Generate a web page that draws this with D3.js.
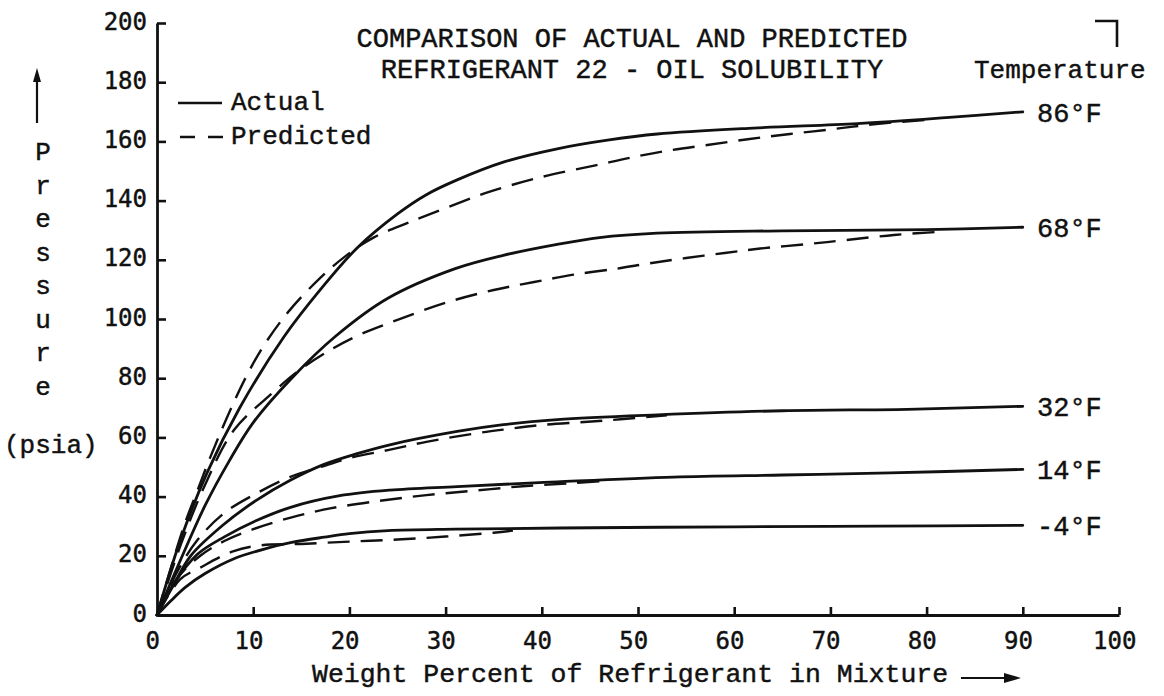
<!DOCTYPE html>
<html><head><meta charset="utf-8">
<script src="https://cdn.jsdelivr.net/npm/d3@7"></script>
<style>
html,body{margin:0;padding:0;background:#fff;}
svg{display:block;}
</style></head>
<body>
<svg id="chart" width="1164" height="696"></svg>
<script>
// ---------- data ----------
const titleLines = ["COMPARISON OF ACTUAL AND PREDICTED", "REFRIGERANT 22 - OIL SOLUBILITY"];
const xTicks = [0,10,20,30,40,50,60,70,80,90,100];
const yTicks = [0,20,40,60,80,100,120,140,160,180,200];
const temperatures = ["86°F","68°F","32°F","14°F","-4°F"];

const actual86 = [[0,0],[2.4,25],[5.2,48],[8.6,70],[13.2,94],[17,110],[20.8,124],[25,135.5],[28,142],[31.2,147],[36,153],[41.6,157.5],[47,160.5],[52,162.5],[62,164.5],[72.8,166],[82,168],[90,170]];
const predicted86 = [[0,0],[2.8,30],[4.2,42],[5.5,53],[8,72],[10,85],[11.5,93],[13.8,103],[17,114],[19.7,121.5],[22.5,127.5],[26,132.4],[30,137.5],[34.6,143],[40,148],[45.7,152],[49.2,154.5],[53,156.8],[57.2,158.8],[61.6,160.8],[65.8,162.5],[70.4,164.2],[74.5,165.8],[80,167.3]];

const actual68 = [[0,0],[2.5,19],[5,37],[7.5,52],[10,65],[14,80],[18.5,94],[24,107],[31,117],[36,121.5],[41.6,125.2],[46,127.5],[52,129],[65,129.8],[80,130.2],[90,131]];
const predicted68 = [[0,0],[2.5,24],[5,44],[8,62.5],[12,75],[14.5,82],[18,89.5],[21,94.6],[25,99.7],[30,105.5],[35,109.8],[39.2,112.5],[43.3,115],[47.8,117],[51.2,118.8],[55,120.6],[59,122.3],[62.7,123.8],[67.6,125.3],[71.7,126.7],[76.6,128.4],[81,129.4]];

const actual32 = [[0,0],[1.7,10],[3.5,20],[6.9,30.5],[10.4,38.9],[13.9,45.6],[17.3,50.8],[20.8,54.5],[24.2,57.5],[31.2,62],[36,64.3],[41.6,66],[52,67.6],[65,69],[78,69.5],[90,70.5]];
const predicted32 = [[0,0],[2,14],[4.2,25.3],[7,34.5],[10.4,41.2],[13.8,46.6],[17,50],[20,53],[24,55.7],[28,58.5],[33,61.3],[36.4,62.8],[40,64.2],[44.4,65.2],[48.5,66.2],[53,67.5]];

const actual14 = [[0,0],[1.8,10.8],[4.2,20.5],[7,26.4],[10.4,32],[13.8,36.3],[19,40.3],[24.2,42.2],[31.2,43.4],[41.6,45],[53.7,46.6],[65,47.3],[76.2,48],[90,49.2]];
const predicted14 = [[0,0],[2,12],[4.5,20],[7,25],[10,29],[14,33],[18,36],[23,38.5],[28,40.5],[33,42],[38,43.5],[43,44.5],[46,45.2]];

const actualM4 = [[0,0],[1.5,5],[3,9.5],[5,14],[8,19],[11.4,22.5],[14,24.5],[17.4,26.3],[20,27.5],[24,28.5],[31,29],[42,29.4],[60,29.8],[75,30],[90,30.3]];
const predictedM4 = [[0,0],[2.4,12],[4.5,16],[7.9,21.5],[10.7,23.5],[15,24],[20,24.8],[25,25.5],[30,26.5],[35,27.8],[37,28.5]];

const actualSeries = [actual86, actual68, actual32, actual14, actualM4];
const predictedSeries = [predicted86, predicted68, predicted32, predicted14, predictedM4];

// ---------- layout ----------
const svg = d3.select("#chart");
const x = d3.scaleLinear().domain([0,100]).range([157,1119]);
const y = d3.scaleLinear().domain([0,200]).range([615,23]);
const ink = "#111";
const mono = "'Liberation Mono', 'Courier New', monospace";
const sansMono = "'DejaVu Sans Mono', monospace";
const boldify = sel => sel.attr("stroke", ink).attr("stroke-width", 0.45);

// axes
const yAxis = d3.axisLeft(y).tickValues(yTicks).tickSizeInner(-9).tickSizeOuter(0).tickPadding(10).tickFormat(d3.format("d"));
const gy = svg.append("g").attr("transform", `translate(${x(0)},0)`).call(yAxis);
const xAxis = d3.axisBottom(x).tickValues(xTicks).tickSizeInner(-8).tickSizeOuter(0).tickPadding(14).tickFormat(d3.format("d"));
const gx = svg.append("g").attr("transform", `translate(0,${y(0)})`).call(xAxis);

[gx, gy].forEach(g => {
  g.select(".domain").attr("stroke", ink).attr("stroke-width", 2.8);
  g.selectAll(".tick line").attr("stroke", ink).attr("stroke-width", 2.6);
  g.selectAll(".tick text").attr("fill", ink).style("font-family", sansMono).style("font-size", "24px").call(boldify);
});
gy.selectAll(".tick text").attr("dy", "0.25em");
gx.selectAll(".tick text").attr("dx", "-0.2em").attr("dy", "0.85em");
gx.selectAll(".tick").filter(d => d === 0).select("line").remove();
gy.selectAll(".tick").filter(d => d === 0).select("line").remove();

// curves
const line = d3.line().x(d => x(d[0])).y(d => y(d[1])).curve(d3.curveCatmullRom.alpha(0.5));
svg.append("g").selectAll("path.actual").data(actualSeries).join("path")
  .attr("class","actual").attr("d", line).attr("fill","none")
  .attr("stroke", ink).attr("stroke-width", 2.8).attr("stroke-linecap","round");
svg.append("g").selectAll("path.pred").data(predictedSeries).join("path")
  .attr("class","pred").attr("d", line).attr("fill","none")
  .attr("stroke", ink).attr("stroke-width", 2.4).attr("stroke-dasharray","22 11");

// curve labels
svg.append("g").selectAll("text").data(actualSeries).join("text")
  .attr("x", 1037)
  .attr("y", d => y(d[d.length-1][1]) + 10)
  .text((d,i) => temperatures[i])
  .attr("fill", ink).style("font-family", mono).style("font-size","27px").call(boldify);

// title
svg.append("g").selectAll("text").data(titleLines).join("text")
  .attr("x", 632).attr("y", (d,i) => 47 + i*31)
  .attr("text-anchor","middle")
  .text(d => d).attr("fill", ink).style("font-family", mono).style("font-size","27px").call(boldify);

svg.append("text").attr("x", 974).attr("y", 78).text("Temperature")
  .attr("fill", ink).style("font-family", mono).style("font-size","26px").call(boldify);
svg.append("path").attr("d","M1095,21 H1117 V47").attr("fill","none").attr("stroke",ink).attr("stroke-width",2.6);

// legend
svg.append("line").attr("x1",178).attr("x2",222).attr("y1",103).attr("y2",103).attr("stroke",ink).attr("stroke-width",2.4);
svg.append("line").attr("x1",180).attr("x2",227).attr("y1",137).attr("y2",137).attr("stroke",ink).attr("stroke-width",2.4).attr("stroke-dasharray","15 13");
svg.append("text").attr("x",231).attr("y",110).text("Actual").attr("fill",ink).style("font-family",mono).style("font-size","26px").call(boldify);
svg.append("text").attr("x",231).attr("y",144).text("Predicted").attr("fill",ink).style("font-family",mono).style("font-size","26px").call(boldify);

// y axis label
const yLetters = ["P","r","e","s","s","u","r","e"];
svg.append("g").selectAll("text").data(yLetters).join("text")
  .attr("x", 43).attr("y", (d,i) => 160 + i*33.5).attr("text-anchor","middle")
  .text(d => d).attr("fill",ink).style("font-family",mono).style("font-size","26px").call(boldify);
svg.append("text").attr("x", 4).attr("y", 453).text("(psia)").attr("fill",ink).style("font-family",mono).style("font-size","26px").call(boldify);
svg.append("line").attr("x1",37).attr("x2",37).attr("y1",123).attr("y2",78).attr("stroke",ink).attr("stroke-width",2.2);
svg.append("path").attr("d","M37,68 L33,82 L41,82 Z").attr("fill",ink);

// x axis label
svg.append("text").attr("x", 312).attr("y", 682).text("Weight Percent of Refrigerant in Mixture")
  .attr("fill",ink).style("font-family",mono).style("font-size","26.5px").call(boldify);
svg.append("line").attr("x1",961).attr("x2",1008).attr("y1",678).attr("y2",678).attr("stroke",ink).attr("stroke-width",2.2);
svg.append("path").attr("d","M1021,678 L1004,673 L1004,683 Z").attr("fill",ink);
</script>
</body></html>
